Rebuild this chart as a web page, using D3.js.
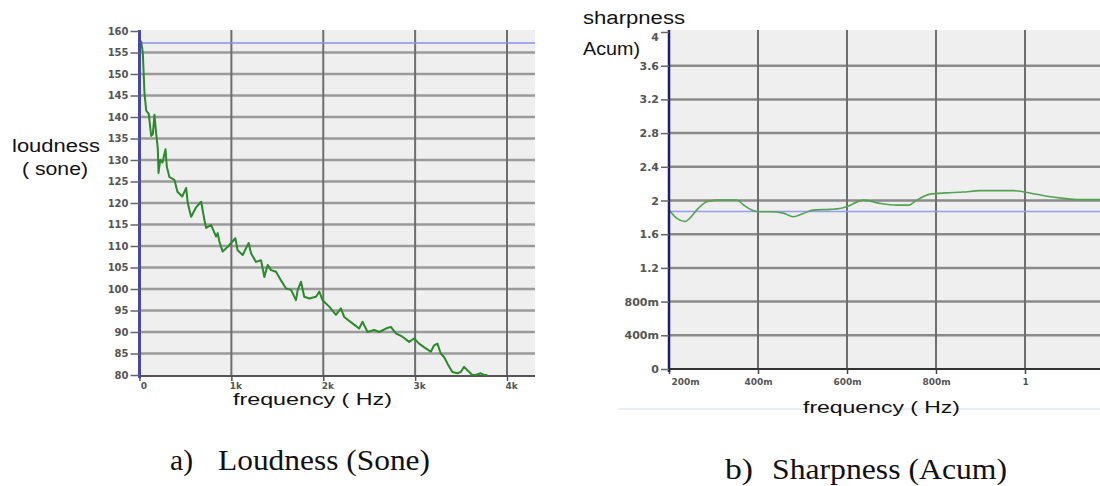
<!DOCTYPE html>
<html>
<head>
<meta charset="utf-8">
<script src="https://cdnjs.cloudflare.com/ajax/libs/d3/7.8.5/d3.min.js"></script>
<style>
  body { margin: 0; background: #fff; }
  .tick text { font-family: "DejaVu Sans", Arial, sans-serif; font-weight: bold; fill: #555; }
</style>
</head>
<body>
<div id="chart"></div>
<script>
//loudness data (frequency in Hz, value in sone)
var loudFreq = [0, 18, 36, 54, 73, 101, 127, 145, 163, 182, 199, 207, 225, 250, 283, 297, 326, 380, 413, 465,
    508, 525, 562, 616, 671, 707, 725, 779, 834, 851, 870, 905, 960, 997, 1043, 1068, 1123, 1188, 1214, 1268,
    1323, 1359, 1395, 1432, 1486, 1540, 1595, 1649, 1703, 1721, 1758, 1793, 1848, 1921, 1957, 1992, 2065, 2138, 2192, 2228,
    2318, 2391, 2427, 2482, 2554, 2609, 2682, 2736, 2790, 2862, 2935, 2989, 3043, 3116, 3171, 3207, 3243, 3279, 3315, 3351,
    3405, 3460, 3497, 3533, 3569, 3623, 3660, 3714, 3750, 3786];
var loudVal = [158, 157.5, 155, 145.6, 141.5, 140.7, 135.6, 136, 140.5, 136, 132.7, 127, 130, 129.4, 132.5, 128.5, 126, 125.4, 122.6, 121.5,
    123.5, 120, 116.8, 119, 120.3, 116, 114.2, 114.9, 112.2, 113, 111, 108.7, 109.8, 110.7, 111.8, 109, 107.9, 110.7, 108.3, 106.3,
    106.7, 102.8, 105.6, 104.4, 104, 102, 100.1, 99.8, 97.4, 99.7, 101.7, 98.2, 97.8, 98.2, 99.4, 97.4, 95.9, 94, 95.5, 93.5,
    92, 90.8, 92.4, 90, 90.5, 90, 90.8, 91.2, 89.7, 88.9, 87.7, 88.5, 87.3, 86.2, 85.4, 86.9, 87.3, 85, 84.2, 82.7,
    80.7, 80.4, 80.7, 81.9, 81.1, 80, 80, 80.4, 80, 80];
var loudRef = 157.2;
var loudYTicks = [80, 85, 90, 95, 100, 105, 110, 115, 120, 125, 130, 135, 140, 145, 150, 155, 160];
var loudXTicks = [0, 1000, 2000, 3000, 4000];
var loudXLabels = ["0", "1k", "2k", "3k", "4k"];

//sharpness data (frequency in Hz, value in acum)
var sharpFreq = [0.2, 0.217, 0.236, 0.247, 0.262, 0.285, 0.307, 0.352, 0.367, 0.386, 0.401, 0.427, 0.457, 0.479, 0.502, 0.524,
    0.562, 0.584, 0.599, 0.637, 0.674, 0.712, 0.738, 0.757, 0.787, 0.824, 0.861, 0.899, 0.974, 1.011, 1.049, 1.086, 1.124, 1.169];
var sharpVal = [1.886, 1.79, 1.75, 1.79, 1.886, 1.985, 2.005, 2.005, 1.95, 1.886, 1.866, 1.866, 1.85, 1.807, 1.846, 1.886,
    1.895, 1.905, 1.926, 2.005, 1.966, 1.945, 1.945, 2.005, 2.076, 2.09, 2.10, 2.117, 2.117, 2.09, 2.05, 2.025, 2.01, 2.01];
var sharpRef = 1.87;
var sharpYTicks = [0, 0.4, 0.8, 1.2, 1.6, 2, 2.4, 2.8, 3.2, 3.6, 4];
var sharpYLabels = ["0", "400m", "800m", "1.2", "1.6", "2", "2.4", "2.8", "3.2", "3.6", "4"];
var sharpXTicks = [0.2, 0.4, 0.6, 0.8, 1];
var sharpXLabels = ["200m", "400m", "600m", "800m", "1"];

var svgWidth = 1100;
var svgHeight = 486;

var svg = d3.select("#chart")
    .append("svg")
    .attr("width", svgWidth)
    .attr("height", svgHeight)
    .style("display", "block");

svg.append("rect").attr("width", svgWidth).attr("height", svgHeight).attr("fill", "#fff");

//stretched text helper
function addText(x, y, str, size, family, width) {
    return svg.append("text")
        .attr("x", x)
        .attr("y", y)
        .attr("font-family", family)
        .attr("font-size", size)
        .attr("fill", "#111")
        .attr("textLength", width)
        .attr("lengthAdjust", "spacingAndGlyphs")
        .text(str);
}

// ---------- a) loudness ----------
var loud = { left: 139.5, right: 535, top: 30, bottom: 376 };
var xLoud = d3.scaleLinear().domain([0, 4000]).range([139.5, 507]);
var yLoud = d3.scaleLinear().domain([80, 160]).range([375, 31]);

svg.append("rect")
    .attr("x", loud.left).attr("y", loud.top)
    .attr("width", loud.right - loud.left).attr("height", loud.bottom - loud.top)
    .attr("fill", "#efefef");

//horizontal grid
svg.append("g").selectAll("line")
    .data(loudYTicks.filter(d => d > 80 && d < 160))
    .enter().append("line")
    .attr("x1", loud.left).attr("x2", loud.right)
    .attr("y1", d => yLoud(d)).attr("y2", d => yLoud(d))
    .attr("stroke", "#9a9a9a").attr("stroke-width", 2.5);

//vertical grid
svg.append("g").selectAll("line")
    .data(loudXTicks.slice(1))
    .enter().append("line")
    .attr("x1", d => xLoud(d)).attr("x2", d => xLoud(d))
    .attr("y1", loud.top).attr("y2", loud.bottom)
    .attr("stroke", "#6e6e6e").attr("stroke-width", 2);

//bottom axis
var loudXAxis = svg.append("g")
    .attr("transform", `translate(0, ${loud.bottom})`)
    .call(d3.axisBottom(xLoud).tickValues(loudXTicks).tickFormat((d, i) => loudXLabels[i]).tickSize(5).tickSizeOuter(0));
loudXAxis.select(".domain").attr("stroke", "#555").attr("stroke-width", 2)
    .attr("d", `M${loud.left},0H${loud.right}`);
loudXAxis.selectAll(".tick line").attr("stroke", "#555").attr("stroke-width", 1.5);
loudXAxis.selectAll(".tick text").attr("font-size", 9).attr("dx", 4).attr("y", 7).attr("fill", "#777");

//reference line
svg.append("line")
    .attr("x1", loud.left).attr("x2", loud.right)
    .attr("y1", yLoud(loudRef)).attr("y2", yLoud(loudRef))
    .attr("stroke", "#8c8cf0").attr("stroke-width", 1.5);

//loudness curve
var loudPoints = loudFreq.map((f, i) => [f, loudVal[i]]);
var loudLine = d3.line()
    .x(d => xLoud(d[0]))
    .y(d => yLoud(d[1]));
svg.append("path")
    .datum(loudPoints)
    .attr("d", loudLine)
    .attr("fill", "none")
    .attr("stroke", "#2b8a2b")
    .attr("stroke-width", 2)
    .attr("stroke-linejoin", "round");

//left axis
var loudYAxis = svg.append("g")
    .attr("transform", `translate(${loud.left}, 0)`)
    .call(d3.axisLeft(yLoud).tickValues(loudYTicks).tickSize(9).tickSizeOuter(0));
loudYAxis.select(".domain").attr("stroke", "#4848a8").attr("stroke-width", 3)
    .attr("d", `M0,${loud.top}V${loud.bottom + 2}`);
loudYAxis.selectAll(".tick line").attr("stroke", "#666").attr("stroke-width", 1.5);
loudYAxis.selectAll(".tick text").attr("font-size", 10).attr("x", -11);

addText(12, 152, "loudness", 18, "Arial, 'Liberation Sans', sans-serif", 88);
addText(22, 175, "( sone)", 18, "Arial, 'Liberation Sans', sans-serif", 66);
addText(233, 405, "frequency  ( Hz)", 17, "Arial, 'Liberation Sans', sans-serif", 159);

// ---------- b) sharpness ----------
var sharp = { left: 669, right: 1100, top: 30, bottom: 369 };
var xSharp = d3.scaleLinear().domain([0.2, 1]).range([669, 1025]);
var ySharp = d3.scaleLinear().domain([0, 4]).range([369, 32]);

svg.append("rect")
    .attr("x", sharp.left).attr("y", sharp.top)
    .attr("width", sharp.right - sharp.left).attr("height", sharp.bottom - sharp.top)
    .attr("fill", "#efefef");

svg.append("g").selectAll("line")
    .data(sharpYTicks.filter(d => d > 0 && d < 4))
    .enter().append("line")
    .attr("x1", sharp.left).attr("x2", sharp.right)
    .attr("y1", d => ySharp(d)).attr("y2", d => ySharp(d))
    .attr("stroke", "#8a8a8a").attr("stroke-width", 2.5);

svg.append("g").selectAll("line")
    .data(sharpXTicks.slice(1))
    .enter().append("line")
    .attr("x1", d => xSharp(d)).attr("x2", d => xSharp(d))
    .attr("y1", sharp.top).attr("y2", sharp.bottom)
    .attr("stroke", "#6e6e6e").attr("stroke-width", 2);

var sharpXAxis = svg.append("g")
    .attr("transform", `translate(0, ${sharp.bottom})`)
    .call(d3.axisBottom(xSharp).tickValues(sharpXTicks).tickFormat((d, i) => sharpXLabels[i]).tickSize(5).tickSizeOuter(0));
sharpXAxis.select(".domain").attr("stroke", "#333").attr("stroke-width", 2)
    .attr("d", `M${sharp.left},0H${sharp.right}`);
sharpXAxis.selectAll(".tick line").attr("stroke", "#444").attr("stroke-width", 1.5);
sharpXAxis.selectAll(".tick text").attr("font-size", 9).attr("y", 10).attr("fill", "#666");
sharpXAxis.selectAll(".tick text").filter((d, i) => i === 0).attr("dx", 16);

svg.append("line")
    .attr("x1", sharp.left).attr("x2", sharp.right)
    .attr("y1", ySharp(sharpRef)).attr("y2", ySharp(sharpRef))
    .attr("stroke", "#9a9af0").attr("stroke-width", 1.5);

var sharpPoints = sharpFreq.map((f, i) => [f, sharpVal[i]]);
var sharpLine = d3.line()
    .curve(d3.curveMonotoneX)
    .x(d => xSharp(d[0]))
    .y(d => ySharp(d[1]));
svg.append("path")
    .datum(sharpPoints)
    .attr("d", sharpLine)
    .attr("fill", "none")
    .attr("stroke", "#52a352")
    .attr("stroke-width", 1.6);

var sharpYAxis = svg.append("g")
    .attr("transform", `translate(${sharp.left}, 0)`)
    .call(d3.axisLeft(ySharp).tickValues(sharpYTicks).tickFormat((d, i) => sharpYLabels[i]).tickSize(8).tickSizeOuter(0));
sharpYAxis.select(".domain").attr("stroke", "#1c1c78").attr("stroke-width", 2.5)
    .attr("d", `M0,${sharp.top}V${sharp.bottom + 3}`);
sharpYAxis.selectAll(".tick line").attr("stroke", "#666").attr("stroke-width", 1.5);
sharpYAxis.selectAll(".tick text").attr("font-size", 11).attr("x", -10);
//top label sits a little lower, under the title text
sharpYAxis.selectAll(".tick text").filter(d => d === 4).attr("dy", "0.32em").attr("y", 5);

//faint line under the sharpness panel
svg.append("line")
    .attr("x1", 618).attr("x2", 1100)
    .attr("y1", 409).attr("y2", 409)
    .attr("stroke", "#e2e9f1").attr("stroke-width", 1.5);

addText(583, 24, "sharpness", 18, "Arial, 'Liberation Sans', sans-serif", 102);
addText(583, 55, "Acum)", 18, "Arial, 'Liberation Sans', sans-serif", 57);
addText(803, 413, "frequency   ( Hz)", 17, "Arial, 'Liberation Sans', sans-serif", 157);

// captions
addText(170, 470, "a)", 30, "'Liberation Serif', 'Times New Roman', serif", 23);
addText(218, 470, "Loudness (Sone)", 30, "'Liberation Serif', 'Times New Roman', serif", 212);
addText(725, 479, "b)", 30, "'Liberation Serif', 'Times New Roman', serif", 28);
addText(772, 479, "Sharpness (Acum)", 30, "'Liberation Serif', 'Times New Roman', serif", 235);
</script>
</body>
</html>
